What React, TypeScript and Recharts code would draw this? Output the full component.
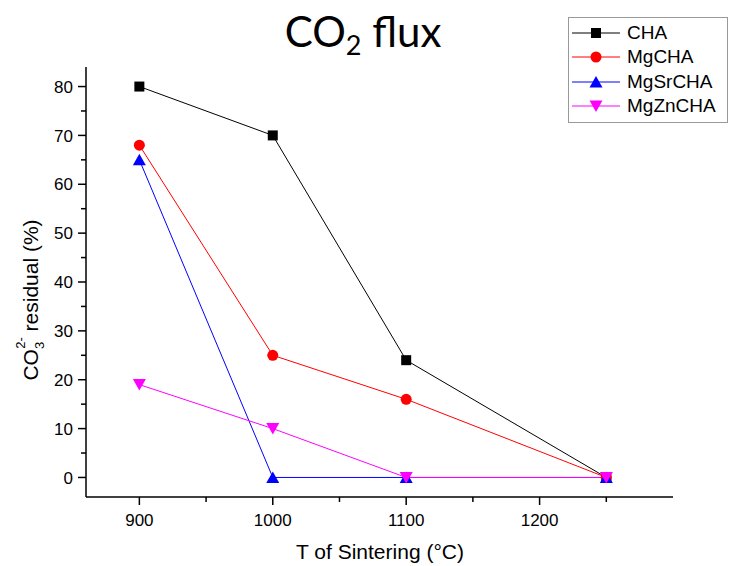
import React from 'react';
import { LineChart, Line, XAxis, YAxis } from 'recharts';

// sintering temperatures (°C)
const temps = [900, 1000, 1100, 1250];

// CO3 2- residual (%) per sample
const cha = [80, 70, 24, 0];
const mgCha = [68, 25, 16, 0];
const mgSrCha = [65, 0, 0, 0];
const mgZnCha = [19, 10, 0, 0];

const xTicks = [900, 950, 1000, 1050, 1100, 1150, 1200, 1250];
const yTicks = [0, 5, 10, 15, 20, 25, 30, 35, 40, 45, 50, 55, 60, 65, 70, 75, 80];

const seriesNames = ['CHA', 'MgCHA', 'MgSrCHA', 'MgZnCHA'];
const seriesValues = [cha, mgCha, mgSrCha, mgZnCha];
const seriesColors = ['#000000', '#ff0000', '#0000ff', '#ff00ff'];
const seriesShapes = ['square', 'circle', 'up', 'down'];

const data = temps.map((t, i) => {
  const row: { [k: string]: number } = { t };
  seriesNames.forEach((name, s) => {
    row[name] = seriesValues[s][i];
  });
  return row;
});

const FONT = '"Liberation Sans", Arial, sans-serif';

const Marker = ({ cx, cy, shape, color }: { cx: number; cy: number; shape: string; color: string }) => {
  if (shape === 'square') {
    return <rect x={cx - 5} y={cy - 5} width={10} height={10} fill={color} />;
  }
  if (shape === 'circle') {
    return <circle cx={cx} cy={cy} r={5.5} fill={color} />;
  }
  if (shape === 'up') {
    return <polygon points={`${cx - 6.5},${cy + 5.5} ${cx + 6.5},${cy + 5.5} ${cx},${cy - 6}`} fill={color} />;
  }
  return <polygon points={`${cx - 6.5},${cy - 5.5} ${cx + 6.5},${cy - 5.5} ${cx},${cy + 6}`} fill={color} />;
};

const XTick = (props: any) => {
  const { x, y, payload } = props;
  const major = payload.value % 100 === 0;
  return (
    <g>
      <line x1={x} x2={x} y1={y} y2={y + (major ? 8 : 5)} stroke="#000" strokeWidth={1.5} />
      {major && (
        <text x={x} y={y + 29} textAnchor="middle" fontSize={17} fontFamily={FONT} fill="#000">
          {payload.value}
        </text>
      )}
    </g>
  );
};

const YTick = (props: any) => {
  const { x, y, payload } = props;
  const major = payload.value % 10 === 0;
  return (
    <g>
      <line x1={x - (major ? 8 : 5)} x2={x} y1={y} y2={y} stroke="#000" strokeWidth={1.5} />
      {major && (
        <text x={x - 13} y={y} dy="0.36em" textAnchor="end" fontSize={17} fontFamily={FONT} fill="#000">
          {payload.value}
        </text>
      )}
    </g>
  );
};

const LegendBox = () => (
  <div
    style={{
      position: 'absolute',
      left: 568,
      top: 17,
      width: 160,
      height: 106,
      boxSizing: 'border-box',
      border: '1px solid #999',
      paddingTop: 3,
      background: '#fff',
    }}
  >
    {seriesNames.map((name, i) => (
      <div key={name} style={{ height: 24.3, display: 'flex', alignItems: 'center' }}>
        <svg width={56} height={24} style={{ flex: 'none' }}>
          <line x1={3} x2={51} y1={12} y2={12} stroke={seriesColors[i]} strokeWidth={1} />
          <Marker cx={27} cy={12} shape={seriesShapes[i]} color={seriesColors[i]} />
        </svg>
        <span style={{ fontFamily: FONT, fontSize: 19, color: '#000', marginLeft: 2 }}>{name}</span>
      </div>
    ))}
  </div>
);

export default function App() {
  return (
    <div style={{ position: 'absolute', left: 0, top: 0, width: 729, height: 566, background: '#fff' }}>
      <LineChart width={729} height={566} data={data} margin={{ top: 67, right: 56, left: 0, bottom: 39 }}>
        <XAxis
          dataKey="t"
          type="number"
          domain={[860, 1300]}
          ticks={xTicks}
          interval={0}
          height={30}
          tickSize={0}
          tickMargin={0}
          tickLine={false}
          axisLine={{ stroke: '#000', strokeWidth: 1.5 }}
          tick={<XTick />}
        />
        <YAxis
          type="number"
          domain={[-4, 84]}
          ticks={yTicks}
          interval={0}
          width={86}
          tickSize={0}
          tickMargin={0}
          tickLine={false}
          axisLine={{ stroke: '#000', strokeWidth: 1.5 }}
          tick={<YTick />}
        />
        {seriesNames.map((name, i) => (
          <Line
            key={name}
            dataKey={name}
            stroke={seriesColors[i]}
            strokeWidth={1}
            isAnimationActive={false}
            dot={(p: any) => (
              <Marker key={`${name}-${p.index}`} cx={p.cx} cy={p.cy} shape={seriesShapes[i]} color={seriesColors[i]} />
            )}
            activeDot={false}
          />
        ))}
      </LineChart>

      <svg width={729} height={566} style={{ position: 'absolute', left: 0, top: 0, pointerEvents: 'none' }}>
        <text x={363} y={47} textAnchor="middle" fontSize={42} fontFamily="Lato, sans-serif" fill="#000">
          CO
          <tspan fontSize={27} dy={8}>2</tspan>
          <tspan dy={-8}> flux</tspan>
        </text>
        <text x={380} y={559} textAnchor="middle" fontSize={21} fontFamily={FONT} fill="#000">
          T of Sintering (°C)
        </text>
        <text transform="translate(38,300) rotate(-90)" textAnchor="middle" fontSize={21} fontFamily={FONT} fill="#000">
          CO
          <tspan fontSize={13} dy={6}>3</tspan>
          <tspan fontSize={13} dx={-7} dy={-19}>2-</tspan>
          <tspan dy={13}> residual (%)</tspan>
        </text>
      </svg>

      <LegendBox />
    </div>
  );
}
